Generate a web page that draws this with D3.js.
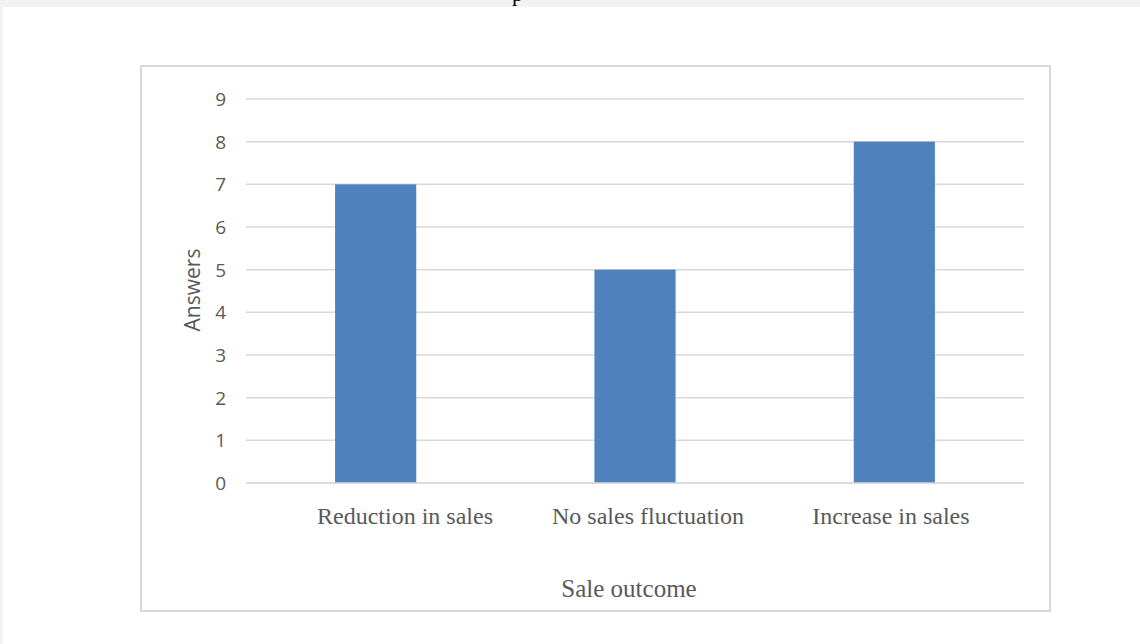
<!DOCTYPE html>
<head>
    <meta charset="utf-8">
    <style>
        body { margin: 0; background: #f2f2f2; }
        .grid line { stroke: #d9d9d9; stroke-width: 1.5; }
        .ytick text { font-family: "Open Sans", sans-serif; font-size: 19px; fill: #595959; }
        .xlab { font-family: "Liberation Serif", "Times New Roman", serif; font-size: 24px; fill: #595959; }
    </style>
</head>
<body>
    <svg width="1140" height="644"></svg>
    <script src="https://d3js.org/d3.v7.min.js"></script>
    <script>
    var categories = ["Reduction in sales", "No sales fluctuation", "Increase in sales"];
    var answers = [7, 5, 8];
    var yTicks = [0, 1, 2, 3, 4, 5, 6, 7, 8, 9];

    var svg = d3.select("svg");

    // page
    svg.append("rect").attr("x", 3).attr("y", 7).attr("width", 1137).attr("height", 637).attr("fill", "#fff");
    // tail of a line of text cut off above the page
    svg.append("text").attr("x", 512).attr("y", 1)
        .style("font-family", "Liberation Serif, serif").style("font-size", "22px")
        .attr("fill", "#000").text("p");

    // chart frame
    svg.append("rect").attr("x", 141).attr("y", 66).attr("width", 909).attr("height", 545)
        .attr("fill", "#fff").attr("stroke", "#d9d9d9").attr("stroke-width", 2);

    var x = d3.scaleBand().domain(categories).range([246, 1024]).padding(0);
    var y = d3.scaleLinear().domain([0, 9]).range([483, 99]);
    // labels sit a little off the bar centres in the original
    var xl = d3.scalePoint().domain(categories).range([405, 891]);

    var grid = svg.append("g").attr("class", "grid");
    grid.selectAll("line").data(yTicks).enter().append("line")
        .attr("x1", 246).attr("x2", 1024)
        .attr("y1", function(d) { return y(d); })
        .attr("y2", function(d) { return y(d); });

    svg.append("g").attr("class", "ytick").selectAll("text").data(yTicks).enter().append("text")
        .attr("x", 226).attr("y", function(d) { return y(d); })
        .attr("dy", "0.36em").attr("text-anchor", "end")
        .text(function(d) { return d; });

    var bw = x.bandwidth() * 0.313;
    svg.append("g").selectAll("rect").data(categories).enter().append("rect")
        .attr("x", function(d) { return x(d) + x.bandwidth() / 2 - bw / 2; })
        .attr("width", bw)
        .attr("y", function(d, i) { return y(answers[i]); })
        .attr("height", function(d, i) { return y(0) - y(answers[i]); })
        .attr("fill", "#4f81bd");

    // redraw baseline over the bars
    svg.append("line").attr("x1", 246).attr("x2", 1024).attr("y1", y(0)).attr("y2", y(0))
        .attr("stroke", "#d9d9d9").attr("stroke-width", 1.5);

    svg.append("g").selectAll("text").data(categories).enter().append("text")
        .attr("class", "xlab")
        .attr("x", function(d) { return xl(d); })
        .attr("y", 524).attr("text-anchor", "middle")
        .text(function(d) { return d; });

    svg.append("text").attr("class", "xlab")
        .attr("x", 629).attr("y", 597).attr("text-anchor", "middle")
        .style("font-size", "25px")
        .text("Sale outcome");

    svg.append("text")
        .attr("transform", "translate(200,290) rotate(-90)")
        .attr("text-anchor", "middle")
        .style("font-family", "Open Sans, sans-serif").style("font-size", "21px")
        .attr("fill", "#595959")
        .text("Answers");
    </script>
</body>
